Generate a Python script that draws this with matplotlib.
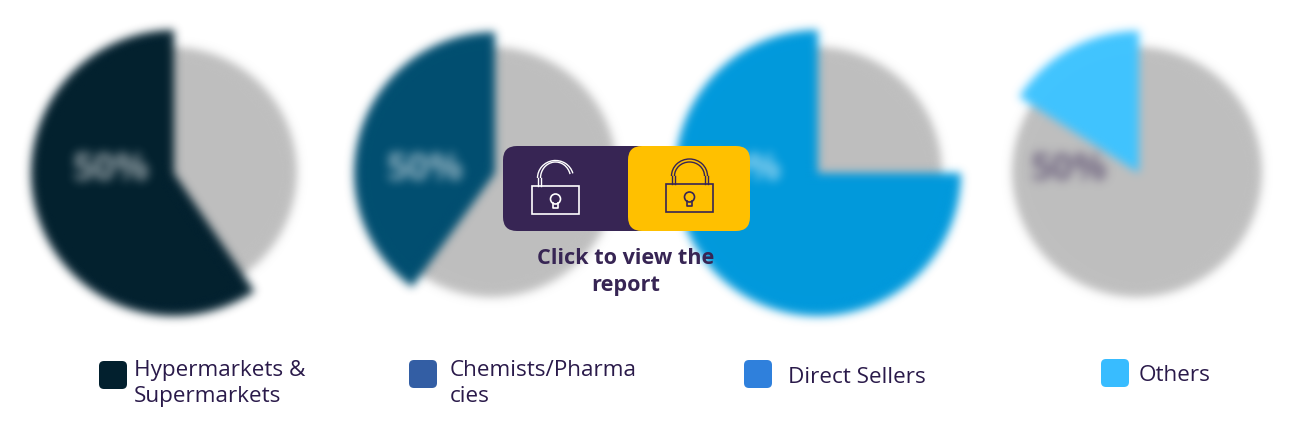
import numpy as np
import matplotlib
matplotlib.use('Agg')
import matplotlib.pyplot as plt
from matplotlib.patches import Wedge, Circle, Arc, FancyBboxPatch, Rectangle

categories = ['Hypermarkets &\nSupermarkets', 'Chemists/Pharma\ncies', 'Direct Sellers', 'Others']
shares = [59.5, 40, 75, 16]
center_label = '50%'

pie_colors = ['#02202e', '#004e70', '#0099dc', '#40c4ff']
swatch_colors = ['#02202e', '#335ea4', '#2f80dc', '#38bcff']
label_colors = ['#ffffff', '#ffffff', '#ffffff', '#372554']
GRAY = '#bfbfbf'
INK = '#2a1a4a'
PURPLE = '#372554'
YELLOW = '#ffc000'

pie_x = [172, 492, 817, 1137]
wedge_x = [174, 495, 818, 1139]
wedge_r = [143, 141, 143, 142]
label_x = [111, 425, 742, 1068]
swatch_x = [99, 409, 744, 1101]
swatch_y = [361, 360, 360, 359]
text_x = [134, 450, 788, 1139]
text_y = [360, 360, 377, 375]


def blur(img, dpi, sigma=4.5):
    # gaussian blur on premultiplied rgba, no scipy needed
    pad = int(sigma * 3)
    img = np.pad(img, ((pad, pad), (pad, pad), (0, 0)))
    k = np.exp(-0.5 * (np.arange(-pad, pad + 1) / sigma) ** 2)
    k /= k.sum()
    rgba = img.copy()
    rgba[..., :3] *= rgba[..., 3:]
    for axis in (0, 1):
        rgba = np.apply_along_axis(np.convolve, axis, rgba, k, mode='same')
    rgba[..., :3] /= np.maximum(rgba[..., 3:], 1e-4)
    return np.clip(rgba, 0, 1), -pad, -pad


def Y(y):
    # reference was measured from the top edge
    return 444 - y


fig = plt.figure(figsize=(13.13, 4.44), dpi=100)
ax = fig.add_axes([0, 0, 1, 1])
ax.set_xlim(0, 1313)
ax.set_ylim(0, 444)
ax.axis('off')

for i, share in enumerate(shares):
    gray = Circle((pie_x[i], Y(172)), 125, fc=GRAY, ec='none', zorder=1)
    gray.set_agg_filter(blur)
    ax.add_patch(gray)
    wedge = Wedge((wedge_x[i], Y(173)), wedge_r[i], 90, 90 + share * 3.6, fc=pie_colors[i], ec='none', zorder=2)
    wedge.set_agg_filter(blur)
    ax.add_patch(wedge)
    t = ax.text(label_x[i], Y(170), center_label, color=label_colors[i], fontsize=27,
                fontweight='bold', ha='center', va='center', alpha=0.6, zorder=3,
                family='Open Sans')
    t.set_agg_filter(lambda img, dpi: blur(img, dpi, 5))

    sw = FancyBboxPatch((swatch_x[i] + 4, Y(swatch_y[i] + 24)), 20, 20,
                        boxstyle='round,pad=4,rounding_size=5',
                        fc=swatch_colors[i], ec='none', zorder=5)
    ax.add_patch(sw)
    ax.text(text_x[i], Y(text_y[i]), categories[i], color=INK, fontsize=16.2,
            ha='left', va='center' if '\n' not in categories[i] else 'top',
            family='Open Sans', linespacing=1.32, zorder=5)

# the lock buttons over the middle of the chart
ax.add_patch(FancyBboxPatch((517, Y(217)), 130, 57, boxstyle='round,pad=14,rounding_size=14',
                            fc=PURPLE, ec='none', zorder=6))
ax.add_patch(FancyBboxPatch((642, Y(217)), 94, 57, boxstyle='round,pad=14,rounding_size=14',
                            fc=YELLOW, ec='none', zorder=7))


def lock(x, top, color, opened):
    cx = x + 23.5
    ax.add_patch(Rectangle((x, Y(top + 28)), 47, 28, fc='none', ec=color, lw=1.2, zorder=8))
    # shackle is a double outline in the reference
    for half in (15, 18):
        if opened:
            ax.add_patch(Arc((cx, Y(top - 8)), half * 2, 32 + half - 15, theta1=15, theta2=180,
                             ec=color, lw=1, zorder=8))
            ax.plot([cx - half, cx - half], [Y(top), Y(top - 8)], color=color, lw=1, zorder=8)
        else:
            ax.add_patch(Arc((cx, Y(top - 8)), half * 2, 28 + (half - 15) * 2, theta1=0, theta2=180,
                             ec=color, lw=1, zorder=8))
            ax.plot([cx - half, cx - half], [Y(top), Y(top - 8)], color=color, lw=1, zorder=8)
            ax.plot([cx + half, cx + half], [Y(top), Y(top - 8)], color=color, lw=1, zorder=8)
    ax.add_patch(Circle((cx, Y(top + 13)), 5, fc='none', ec=color, lw=1.2, zorder=8))
    ax.plot([cx - 2.5, cx - 2.5, cx + 2.5, cx + 2.5], [Y(top + 17), Y(top + 22), Y(top + 22), Y(top + 17)],
            color=color, lw=1.2, zorder=8)


lock(532, 186, 'white', True)
lock(666, 184, PURPLE, False)

ax.text(626, Y(272), 'Click to view the\nreport', color=PURPLE, fontsize=15.6, fontweight='bold',
        ha='center', va='center', family='Open Sans', linespacing=1.38, zorder=8)

fig.savefig('out.png', dpi=100)
